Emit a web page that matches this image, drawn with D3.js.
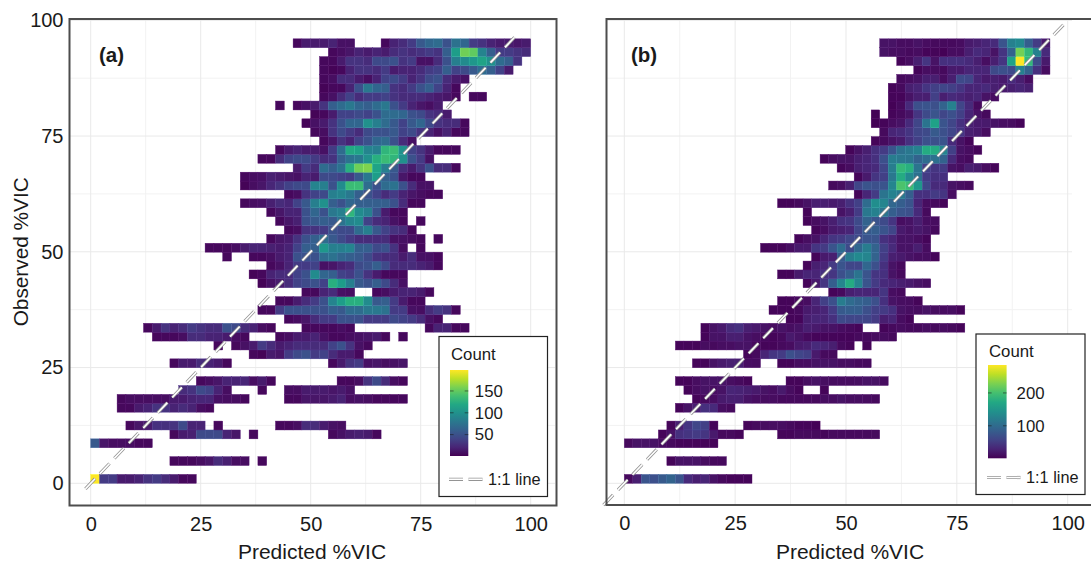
<!DOCTYPE html>
<html>
<head>
<meta charset="utf-8">
<script src="https://cdn.jsdelivr.net/npm/d3@7"></script>
<style>
  html, body { margin: 0; padding: 0; background: #fff; }
  text { font-family: "Liberation Sans", Arial, sans-serif; fill: #1a1a1a; }
</style>
</head>
<body>
<div id="chart"></div>
<script>
// Tick values shared by both panels
const axisTicks = [0, 25, 50, 75, 100];
const minorTicks = [12.5, 37.5, 62.5, 87.5];

// Panel (a): one entry per y bin, bottom to top, [first x bin, counts...]. 0 = empty cell.
const binsA = [
  [0, 198,35,35,15,15,20,30,35,25,15,5,5],
  [],
  [9, 5,5,5,8,12,25,18,8,8,0,5],
  [],
  [0, 55,12,8,8,8,5,5],
  [9, 5,15,18,45,45,45,20,12,0,5,0,0,0,0,0,0,0,0,5,10,15,18,15,5],
  [4, 5,12,15,28,28,30,45,20,20,0,5,0,0,0,0,0,0,5,5,8,25,25,15,10,8],
  [],
  [3, 5,5,15,20,30,30,20,25,20,8,5],
  [3, 5,8,8,8,8,8,15,15,20,22,22,10,8,8,5,0,0,0,0,5,5,12,12,12,15,20,8,10,8,5,5,5,5],
  [10, 25,30,45,40,20,8,0,0,0,5,0,0,8,8,15,15,15,12,15,10],
  [12, 5,8,12,20,20,22,8,15,5,0,0,0,0,0,0,0,5,5,8,30,45,25,8,5],
  [],
  [9, 5,15,15,25,20,15,5,0,0,0,0,0,0,0,0,0,0,0,5,15,30,35,10,12,8,10,12],
  [18, 5,3,15,12,35,45,50,35,40,25,15,15,5],
  [14, 5,0,5,10,15,35,25,15,20,25,25,25,25,40,50,30,10,5],
  [7, 5,5,5,8,25,25,20,20,15,8,5,0,0,0,5,8,15,15,20,10,5,5,8,10,12,15,5,0,5],
  [6, 5,15,30,20,25,35,30,25,25,50,45,25,20,8,5,0,0,0,5,5,5,5,8,5,0,0,0,0,0,0,0,0,5,20,20,5,5],
  [22, 5,8,12,25,35,35,50,50,50,35,35,35,45,40,35,25,10,5],
  [19, 5,5,35,50,50,50,50,50,60,55,70,70,80,80,75,35,35,10,8,25,35,30,5],
  [21, 5,5,15,25,35,50,90,110,125,125,95,55,60,35,15,5,5],
  [24, 5,5,20,25,10,8,0,0,5,8,15,20,20,15,5],
  [19, 3,10,15,25,40,45,50,40,125,110,85,55,50,60,45,25,10],
  [18, 3,5,20,25,25,40,50,95,65,60,40,35,50,30,15,5,5,5],
  [20, 5,10,20,35,35,40,10,12,20,25,45,50,60,45,25,25,25,20,15,5],
  [15, 5,0,0,5,5,8,15,20,50,50,50,70,75,65,60,55,45,30,25,25,15,25,10,10,5],
  [13, 5,5,5,8,15,20,20,18,15,20,40,60,60,105,85,85,90,60,60,45,50,30,8,0,5],
  [20, 5,12,15,30,50,60,70,55,45,35,25,25,25,25,10,10,8,5,0,5],
  [22, 5,8,30,30,35,50,45,45,70,85,55,40,30,25,5],
  [21, 5,12,18,50,55,60,55,75,90,95,40,25,20,10,5,0,5],
  [20, 5,12,20,20,50,65,50,80,85,130,95,85,50,15,5,5],
  [17, 5,8,10,18,25,22,40,55,85,100,60,50,65,60,60,60,60,50,25,5,5],
  [22, 5,8,30,40,45,85,90,80,60,50,40,25,35,20,12,8,5,5],
  [17, 3,8,12,22,30,40,45,45,90,85,50,95,135,135,70,50,70,75,50,25,10,10],
  [17, 5,8,10,18,15,12,10,20,15,45,45,40,35,55,80,110,60,50,12,5,5],
  [23, 15,35,25,70,60,75,125,155,160,115,85,55,25,15,30,50,25,25,5],
  [19, 5,5,25,40,45,45,35,25,30,60,75,80,100,125,135,130,100,50,35,10],
  [21, 5,15,20,15,15,10,35,70,120,115,90,85,130,135,100,40,30,15,5,5,5],
  [26, 5,12,30,20,40,50,65,70,50,25,10],
  [25, 5,8,30,45,35,25,45,50,50,55,40,45,30,20,10,20,5,5],
  [24, 3,10,15,30,50,65,65,100,85,70,55,40,55,65,45,30,25,25,5],
  [25, 3,5,15,40,40,45,40,50,70,70,65,50,45,30,25,15],
  [21, 5,0,5,10,15,30,60,70,80,65,60,70,80,50,35,20,12,8,15],
  [26, 5,10,25,40,25,35,35,40,30,25,25,25,20,15,12,5,0,5,5],
  [26, 3,5,5,20,50,80,65,60,30,25,35,50,60,40,20,5],
  [26, 5,8,25,25,15,8,20,40,45,35,20,30,45,50,25,15,10],
  [26, 5,3,5,20,30,30,25,35,15,20,20,25,35,40,60,40,45,55,70,60,40,15],
  [26, 5,5,15,30,30,25,45,45,50,30,35,10,10,25,50,85,95,105,115,100,70,60,30],
  [27, 5,8,12,20,15,20,15,25,30,25,30,35,30,60,110,155,150,90,60,35,35,30,25],
  [23, 5,15,15,15,20,10,10,0,0,0,5,20,25,35,55,65,70,50,75,65,35,30,20,15,15,12,15]
];

// Panel (b): same layout, finer x bins
const binsB = [
  [0, 8,25,75,70,80,90,75,35,25,30,15,8,5,5,5],
  [],
  [5, 5,15,15,15,10,8,8],
  [],
  [0, 8,15,15,15,10,8,5,5,5,5,5],
  [4, 5,15,40,45,50,45,20,8,8,5,0,0,0,0,5,5,8,8,8,5,8,8,8,8,8,8],
  [5, 5,25,45,60,55,5,0,0,0,5,8,10,12,12,8,5,5,3],
  [],
  [6, 5,15,25,40,35,12,8],
  [8, 5,8,12,20,25,25,15,12,10,10,8,8,8,8,8,12,12,15,12,12,10,8],
  [7, 5,10,15,12,15,30,28,25,20,15,12,20,10,5,0,0,5],
  [6, 5,5,10,15,15,15,12,8,5,0,0,0,0,5,5,12,15,12,10,10,10,12,15,15,10],
  [],
  [8, 5,5,15,20,25,25,12,10,0,0,5,5,10,12,15,15,15,12,12,8,8],
  [14, 5,8,30,45,50,70,60,55,20,8,8],
  [6, 5,5,5,10,8,12,12,15,15,8,5,5,8,10,20,25,35,30,25,8,5,0,5],
  [9, 5,15,15,25,25,15,12,8,5,8,20,15,8,5,5,5,5,5,8,8,10,10,8],
  [9, 5,15,20,35,40,25,20,15,10,15,12,15,25,20,15,15,10,8,5,0,0,5,8,10,8,8,12,8,10,8,5],
  [19, 5,5,25,30,30,40,65,60,60,60,50,25,30,10,5],
  [17, 5,5,5,8,20,25,30,50,80,85,85,70,55,50,40,15,12,10,15,10,10,12,5],
  [18, 5,5,8,10,30,55,70,120,100,90,85,70,40,15,12,10,5],
  [24, 5,8,25,30,30,30,45,12,8],
  [21, 5,20,45,85,130,175,130,75,50,35,30,25,20,15,12],
  [18, 5,5,20,30,30,40,45,70,85,110,75,45,40,15,8],
  [21, 5,25,30,50,75,60,60,95,70,40,15,8],
  [22, 5,20,25,80,120,135,130,90,50,25,20,15,12,12,5],
  [16, 5,5,5,12,20,20,45,50,75,100,65,95,120,90,55,35,15,15,25,10],
  [20, 5,12,15,30,45,50,60,65,75,75,40,30,15,15,12,5],
  [22, 5,10,20,25,30,60,80,85,75,60,20,15,20,15,8],
  [21, 5,10,15,25,40,45,65,90,75,65,45,12,15,25,12,10],
  [21, 5,0,0,0,15,25,50,115,125,110,85,75,70,35,8],
  [18, 5,5,8,15,25,25,20,25,40,55,100,140,130,95,85,75,30,10,8,5],
  [27, 5,30,50,110,125,115,85,40,40,50,45,12],
  [24, 8,12,25,60,75,70,75,130,205,195,150,60,35,35,15,12,8],
  [27, 5,20,45,55,115,175,135,105,50,40,40],
  [25, 5,10,25,30,35,60,120,190,180,110,55,45,50,15,12,25,20,10,5],
  [23, 5,12,15,15,25,30,40,70,120,115,110,90,100,105,90,35,12,8],
  [26, 5,15,25,40,50,75,105,115,125,175,175,130,55,15,10,5],
  [29, 5,8,15,20,40,55,70,70,75,35,15,5],
  [30, 8,30,35,45,60,65,80,70,60,45,25,20,10],
  [29, 3,5,10,15,35,60,110,165,75,60,40,25,20,20,15,12,10,5],
  [29, 3,0,5,8,15,45,65,75,60,70,55,30,15,8],
  [31, 3,8,35,70,75,70,90,125,60,35,8],
  [31, 5,5,15,25,25,55,25,35,30,25,30,15,10],
  [31, 5,8,25,30,45,55,60,55,45,30,30,35,25,20,25,30,25],
  [32, 8,12,15,25,25,10,25,65,60,30,20,25,20,35,25,10],
  [34, 5,12,10,8,20,20,30,30,30,65,70,65,125,90,40,10],
  [32, 5,10,25,45,15,40,40,40,35,25,12,25,45,165,285,190,65,20],
  [30, 15,12,12,8,10,5,5,3,10,10,25,35,30,15,45,90,225,190,125,35],
  [30, 15,15,10,10,15,10,8,8,8,10,20,25,30,35,75,125,135,85,50,20]
];

// Color bar ticks, count range and 1:1 line extent per panel
const ticksA = [50, 100, 150];
const ticksB = [100, 200];
const rangeA = [1, 198];
const rangeB = [1, 285];
const lineA = [-1.2, 97.2];
const lineB = [-4.7, 100];

const labelFont = "20px";
const binY = 1.92;

const svg = d3.select("#chart").append("svg")
  .attr("width", 1091)
  .attr("height", 563)
  .style("display", "block");

// Draws a 1:1 line twice: grey outline, white inner dash
function oneToOne(g, x1, y1, x2, y2, dash) {
  [["#949494", 3.2], ["#ffffff", 1.6]].forEach(([colour, w]) => {
    g.append("line")
      .attr("x1", x1).attr("y1", y1)
      .attr("x2", x2).attr("y2", y2)
      .attr("stroke", colour)
      .attr("stroke-width", w)
      .attr("stroke-dasharray", dash);
  });
}

function drawPanel(o) {
  const g = svg.append("g");
  const x = d3.scaleLinear().domain([0, 100]).range(o.xRange);
  const y = d3.scaleLinear().domain([0, 100]).range([483.3, 20.3]);
  const colour = d3.scaleSequential(d3.interpolateViridis).domain(o.range);

  // Grid, minor first so that the major lines sit over them
  const gridSets = [[minorTicks, "#f2f2f2"], [axisTicks, "#e9e9e9"]];
  gridSets.forEach(([ticks, c]) => {
    g.append("g").selectAll("line").data(ticks).join("line")
      .attr("x1", d => x(d)).attr("x2", d => x(d))
      .attr("y1", o.frame.top).attr("y2", o.frame.bottom)
      .attr("stroke", c).attr("stroke-width", 1);
    g.append("g").selectAll("line").data(ticks).join("line")
      .attr("x1", o.frame.left).attr("x2", o.gridEnd)
      .attr("y1", d => y(d)).attr("y2", d => y(d))
      .attr("stroke", c).attr("stroke-width", 1);
  });

  // Flatten rows to cells
  const cells = [];
  o.bins.forEach((row, r) => {
    row.slice(1).forEach((count, i) => {
      if (count > 0) cells.push({r: r, c: row[0] + i, count: count});
    });
  });

  const cellW = x(o.binX) - x(0);
  const cellH = y(0) - y(binY);
  g.append("g").selectAll("rect").data(cells).join("rect")
    .attr("x", d => x(d.c * o.binX))
    .attr("y", d => y((d.r + 1) * binY))
    .attr("width", cellW)
    .attr("height", cellH)
    .attr("fill", d => colour(d.count))
    .attr("stroke", d => d3.color(colour(d.count)).brighter(0.35))
    .attr("stroke-width", 0.4);

  // 1:1 line
  oneToOne(g, x(o.line[0]), y(o.line[0]), x(o.line[1]), y(o.line[1]), "14 7");

  // Frame
  g.append("rect")
    .attr("x", o.frame.left).attr("y", o.frame.top)
    .attr("width", o.frame.right - o.frame.left)
    .attr("height", o.frame.bottom - o.frame.top)
    .attr("fill", "none")
    .attr("stroke", "#4d4d4d")
    .attr("stroke-width", 2);

  // Axes
  const xAxis = g.append("g")
    .attr("transform", `translate(0,${o.frame.bottom})`)
    .call(d3.axisBottom(x).tickValues(axisTicks).tickSize(0).tickPadding(11));
  xAxis.select(".domain").remove();
  xAxis.selectAll("text").style("font-size", labelFont).style("font-family", "Liberation Sans").attr("fill", "#1a1a1a");

  if (o.showY) {
    const yAxis = g.append("g")
      .attr("transform", `translate(${o.frame.left},0)`)
      .call(d3.axisLeft(y).tickValues(axisTicks).tickSize(0).tickPadding(6));
    yAxis.select(".domain").remove();
    yAxis.selectAll("text").style("font-size", labelFont).style("font-family", "Liberation Sans").attr("fill", "#1a1a1a");

    g.append("text")
      .attr("transform", `translate(28,${y(50)}) rotate(-90)`)
      .attr("text-anchor", "middle")
      .style("font-size", "20.8px")
      .text("Observed %VIC");
  }

  g.append("text")
    .attr("x", o.titleX).attr("y", 559)
    .attr("text-anchor", "middle")
    .style("font-size", "21px")
    .text("Predicted %VIC");

  g.append("text")
    .attr("x", o.tagX).attr("y", 62)
    .style("font-size", "20.5px")
    .style("font-weight", "bold")
    .text(o.tag);

  drawLegend(g, o, colour);
}

function drawLegend(g, o, colour) {
  const leg = o.legend;
  g.append("rect")
    .attr("x", leg.x).attr("y", leg.y)
    .attr("width", leg.w).attr("height", leg.h)
    .attr("fill", "#fff")
    .attr("stroke", "#222")
    .attr("stroke-width", 1.2);

  const id = "grad" + o.tag[1];
  const grad = svg.append("defs").append("linearGradient")
    .attr("id", id)
    .attr("x1", 0).attr("x2", 0).attr("y1", 1).attr("y2", 0);
  d3.range(0, 1.01, 0.1).forEach(t => {
    grad.append("stop")
      .attr("offset", t)
      .attr("stop-color", d3.interpolateViridis(t));
  });

  const barX = leg.x + leg.barDx;
  const barW = leg.barW;
  const cy = d3.scaleLinear().domain(o.range).range([leg.barBottom, leg.barTop]);

  g.append("rect")
    .attr("x", barX).attr("y", leg.barTop)
    .attr("width", barW).attr("height", leg.barBottom - leg.barTop)
    .attr("fill", `url(#${id})`);

  // d3 axis for the labels; tick marks drawn by hand on both sides of the bar
  const cAxis = g.append("g")
    .attr("transform", `translate(${barX + barW},0)`)
    .call(d3.axisRight(cy).tickValues(o.colourTicks).tickSize(0).tickPadding(leg.labelPad));
  cAxis.select(".domain").remove();
  cAxis.selectAll("text").style("font-size", "16.8px").style("font-family", "Liberation Sans").attr("fill", "#1a1a1a");

  [barX, barX + barW - 3.6].forEach(bx => {
    g.append("g").selectAll("line").data(o.colourTicks).join("line")
      .attr("x1", bx).attr("x2", bx + 3.6)
      .attr("y1", d => cy(d)).attr("y2", d => cy(d))
      .attr("stroke", "#1a1a1a").attr("stroke-opacity", 0.7).attr("stroke-width", 0.8);
  });

  g.append("text")
    .attr("x", barX + 1).attr("y", leg.titleY)
    .style("font-size", "16.8px")
    .text("Count");

  const keyY = leg.keyY;
  oneToOne(g, barX - 1, keyY, barX + 33, keyY, "14 5.5");
  g.append("text")
    .attr("x", barX + 38).attr("y", keyY + 5.5)
    .style("font-size", "16.3px")
    .text("1:1 line");
}

drawPanel({
  tag: "(a)", tagX: 99, bins: binsA, binX: 2, range: rangeA, line: lineA,
  xRange: [90.7, 530.7], colourTicks: ticksA, showY: true, titleX: 312, gridEnd: 555,
  frame: {left: 69.5, top: 19, right: 556.5, bottom: 505.5},
  legend: {x: 439, y: 336.5, w: 108.5, h: 160, barDx: 11, barW: 18.3, barTop: 370, barBottom: 456, titleY: 360, keyY: 479.3, labelPad: 6.5}
});

drawPanel({
  tag: "(b)", tagX: 631, bins: binsB, binX: 1.92, range: rangeB, line: lineB,
  xRange: [624.3, 1067.7], colourTicks: ticksB, showY: false, titleX: 850, gridEnd: 1072,
  frame: {left: 606.5, top: 19, right: 1100, bottom: 505},
  legend: {x: 976, y: 334, w: 109, h: 160.5, barDx: 12, barW: 18.6, barTop: 365, barBottom: 458.3, titleY: 357, keyY: 477.5, labelPad: 10}
});
</script>
</body>
</html>
